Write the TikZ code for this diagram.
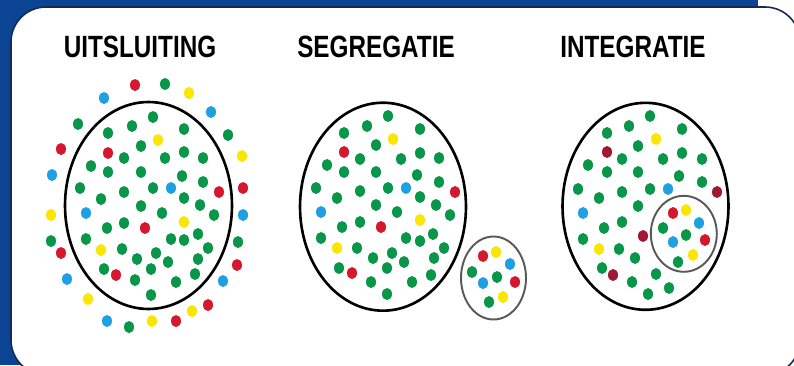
\documentclass[tikz,border=0pt]{standalone}
\usepackage{fontspec}
\usepackage{xcolor}
\newfontfamily\titlefont{Liberation Sans}

\definecolor{bgblue}{RGB}{12,68,148}
\definecolor{frameline}{RGB}{24,40,86}
\definecolor{gn}{RGB}{8,150,72}
\definecolor{rd}{RGB}{214,24,46}
\definecolor{dk}{RGB}{160,24,50}
\definecolor{yl}{RGB}{250,230,0}
\definecolor{bl}{RGB}{30,160,226}

\tikzset{
  grouptitle/.style={font=\titlefont\bfseries\fontsize{17.5}{20}\selectfont, inner sep=0pt},
  bigring/.style={draw=black, line width=1.5pt},
  smallring/.style={draw=black!65, line width=1.1pt}
}

\begin{document}
\begin{tikzpicture}[x=0.02cm,y=-0.02cm]

\useasboundingbox (0,0) rectangle (794,365);
\clip (0,0) rectangle (794,365);

% Frame
\fill[bgblue] (0,0) rectangle (758,365);
\fill[white] (758,0) rectangle (794,365);
\draw[fill=white, draw=frameline, line width=0.9pt, rounded corners=0.7cm] (11,7) rectangle (800,375);

% Titles
\node[grouptitle] (uitsluiting) at (140,47) {\scalebox{0.79}[1]{UITSLUITING}};
\node[grouptitle] (segregatie) at (376,47) {\scalebox{0.79}[1]{SEGREGATIE}};
\node[grouptitle] (integratie) at (633,47) {\scalebox{0.79}[1]{INTEGRATIE}};

% Uitsluiting: ring of outsiders
\foreach \x/\y/\c in {135/85/rd, 165/84/gn, 189/93/yl, 104/98/bl, 211/112/bl,
  78/124/gn, 228/135/gn, 61/149/rd, 242/156/yl, 52/175/bl, 243/188/rd,
  51/215/yl, 243/215/bl, 51/241/gn, 238/242/gn, 61/253/rd, 237/265/rd,
  67/279/bl, 223/281/bl, 88/299/yl, 208/305/rd, 192/311/yl, 107/321/bl,
  129/327/gn, 152/321/yl, 176/321/rd}
  \fill[\c] (\x,\y) ellipse (0.1cm and 0.12cm);

% Uitsluiting: group
\draw[bigring] (148.5,205.5) ellipse (1.67cm and 2.07cm);
\foreach \x/\y/\c in {153/117/gn, 132/126/gn, 108/133/gn, 158/140/yl, 184/129/gn,
  141/146/gn, 108/153/rd, 124/158/gn, 165/158/gn, 184/152/gn, 203/158/gn,
  91/166/gn, 108/172/gn, 141/172/gn, 182/176/gn, 203/182/gn, 80/188/gn,
  124/192/gn, 153/188/gn, 171/188/bl, 219/192/rd, 101/199/gn, 184/198/gn,
  141/206/gn, 200/205/gn, 86/213/bl, 162/213/gn, 214/215/gn, 184/222/yl,
  124/223/gn, 145/228/rd, 107/228/gn, 86/239/gn, 171/239/gn, 184/240/gn,
  198/234/gn, 101/250/yl, 122/249/gn, 156/253/gn, 208/248/gn, 137/259/gn,
  168/262/gn, 198/259/gn, 104/269/gn, 116/275/rd, 151/269/gn, 135/280/gn,
  176/282/gn, 195/274/gn, 151/295/gn}
  \fill[\c] (\x,\y) ellipse (0.1cm and 0.12cm);

% Segregatie: main group
\draw[bigring] (383,206.7) ellipse (1.66cm and 2.08cm);
\foreach \x/\y/\c in {388/116/gn, 367/126/gn, 420/129/gn, 344/133/gn, 393/139/yl,
  376/145/gn, 344/152/rd, 420/153/gn, 360/159/gn, 401/159/gn, 439/158/gn,
  327/165/gn, 344/172/gn, 376/172/gn, 417/175/gn, 439/182/gn, 316/188/gn,
  360/191/gn, 388/188/gn, 406/188/bl, 455/192/rd, 337/198/gn, 420/197/gn,
  376/205/gn, 436/205/gn, 321/212/bl, 397/212/gn, 450/215/gn, 420/220/yl,
  360/222/gn, 381/227/rd, 342/227/gn, 321/238/gn, 406/238/gn, 420/241/gn,
  433/234/gn, 337/248/yl, 357/248/gn, 392/253/gn, 444/248/gn, 373/258/gn,
  404/262/gn, 434/258/gn, 339/268/gn, 352/273/rd, 387/268/gn, 371/282/gn,
  412/282/gn, 431/275/gn, 387/294/gn}
  \fill[\c] (\x,\y) ellipse (0.1cm and 0.12cm);

% Segregatie: separate group
\draw[smallring] (493.5,278) ellipse (0.65cm and 0.83cm);
\foreach \x/\y/\c in {483/256/rd, 496/252/yl, 510/264/bl, 472/272/gn, 497/277/gn,
  515/282/rd, 483/283/bl, 503/297/yl, 489/302/gn}
  \fill[\c] (\x,\y) ellipse (0.1cm and 0.12cm);

% Integratie: main group
\draw[bigring] (645.5,206.3) ellipse (1.66cm and 2.07cm);
\foreach \x/\y/\c in {650/116/gn, 629/126/gn, 682/129/gn, 607/133/gn, 656/139/yl,
  638/146/gn, 607/152/dk, 682/153/gn, 622/159/gn, 663/159/gn, 702/159/gn,
  588/165/gn, 607/172/gn, 638/172/gn, 679/176/gn, 702/182/gn, 578/189/gn,
  622/192/gn, 650/189/gn, 668/189/bl, 717/192/dk, 599/198/gn, 638/206/gn,
  583/213/bl, 622/222/gn, 604/228/gn, 643/236/dk, 583/239/gn, 599/249/yl,
  619/249/gn, 635/258/gn, 602/268/gn, 613/275/dk, 632/282/gn, 656/274/gn,
  669/288/gn, 648/294/gn}
  \fill[\c] (\x,\y) ellipse (0.1cm and 0.12cm);

% Integratie: group inside
\draw[smallring] (683.8,233.8) ellipse (0.66cm and 0.76cm);
\foreach \x/\y/\c in {673/213/rd, 686/210/yl, 699/223/bl, 663/228/gn, 686/235/gn,
  705/240/rd, 673/242/bl, 693/255/yl, 678/262/gn}
  \fill[\c] (\x,\y) ellipse (0.1cm and 0.12cm);

\end{tikzpicture}
\end{document}
